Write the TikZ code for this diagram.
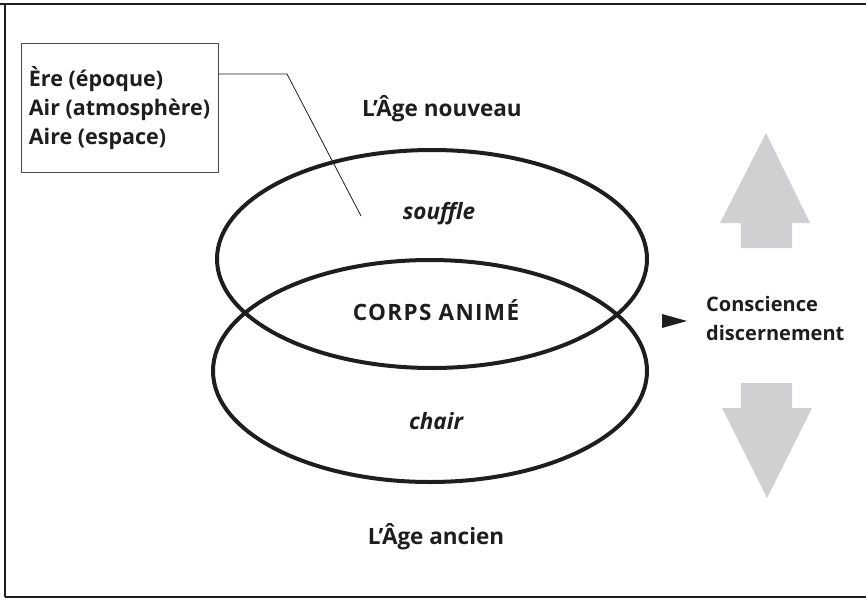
\documentclass[tikz,border=0pt]{standalone}
\usepackage{fontspec}
\setmainfont{Open Sans}
\usetikzlibrary{shapes.geometric}
\definecolor{arrowgrey}{HTML}{D0D0D2}
\definecolor{ink}{HTML}{1E1E1E}
\begin{document}
\begin{tikzpicture}[x=1pt,y=-1pt,
  lab/.style={font=\bfseries\fontsize{22.5}{29}\selectfont, inner sep=0pt, text=ink},
  ital/.style={font=\bfseries\itshape\fontsize{22.5}{29}\selectfont, inner sep=0pt, text=ink},
  ring/.style={line width=4pt, draw=ink},
  bigarrow/.style={fill=arrowgrey, draw=none}]
\useasboundingbox (0,0) rectangle (866,599);
% frame
\draw[line width=2.5pt, draw=ink] (0,4) -- (866,4);
\draw[line width=2.5pt, draw=ink] (5,597) -- (866,597);
\draw[line width=1.3pt, draw=ink] (5,4) -- (5,597);
% ellipses
\draw[ring] (432,259) ellipse [x radius=215pt, y radius=109pt];
\draw[ring] (430,371) ellipse [x radius=217pt, y radius=111pt];
% legend
\node[draw=ink!80, line width=1pt, minimum width=197pt, minimum height=128pt,
      align=left, lab, font=\bfseries\fontsize{21.5}{29}\selectfont, anchor=center]
  (legend) at (119.5,108) {Ère (époque)\\Air (atmosphère)\\Aire (espace)};
\coordinate (pt) at (361,216);
\draw[line width=0.8pt, draw=ink] ([yshift=34pt]legend.east) -- (287,74) -- (pt);
% labels
\node[lab] (nouveau) at (442,109) {L’Âge nouveau};
\node[ital] (souffle) at (439,214) {souffle};
\node[lab, font=\bfseries\fontsize{22.5}{29}\selectfont\addfontfeatures{LetterSpace=6}] (corps) at (436,310) {CORPS ANIMÉ};
\node[ital] (chair) at (436,421) {chair};
\node[lab] (ancien) at (436,537) {L’Âge ancien};
\node[lab, font=\bfseries\fontsize{20}{29}\selectfont, align=left, anchor=west] (consc) at (706,318) {Conscience\\discernement};
% small pointer
\fill[ink] (662,314) -- (687,321) -- (662,328) -- cycle;
% grey arrows
\fill[bigarrow] (766,133) -- (810,223) -- (792,223) -- (792,248) -- (741,248) -- (741,223) -- (720,223) -- cycle;
\fill[bigarrow] (741,383) -- (792,383) -- (792,408) -- (812,408) -- (767,498) -- (722,408) -- (741,408) -- cycle;
\end{tikzpicture}
\end{document}
